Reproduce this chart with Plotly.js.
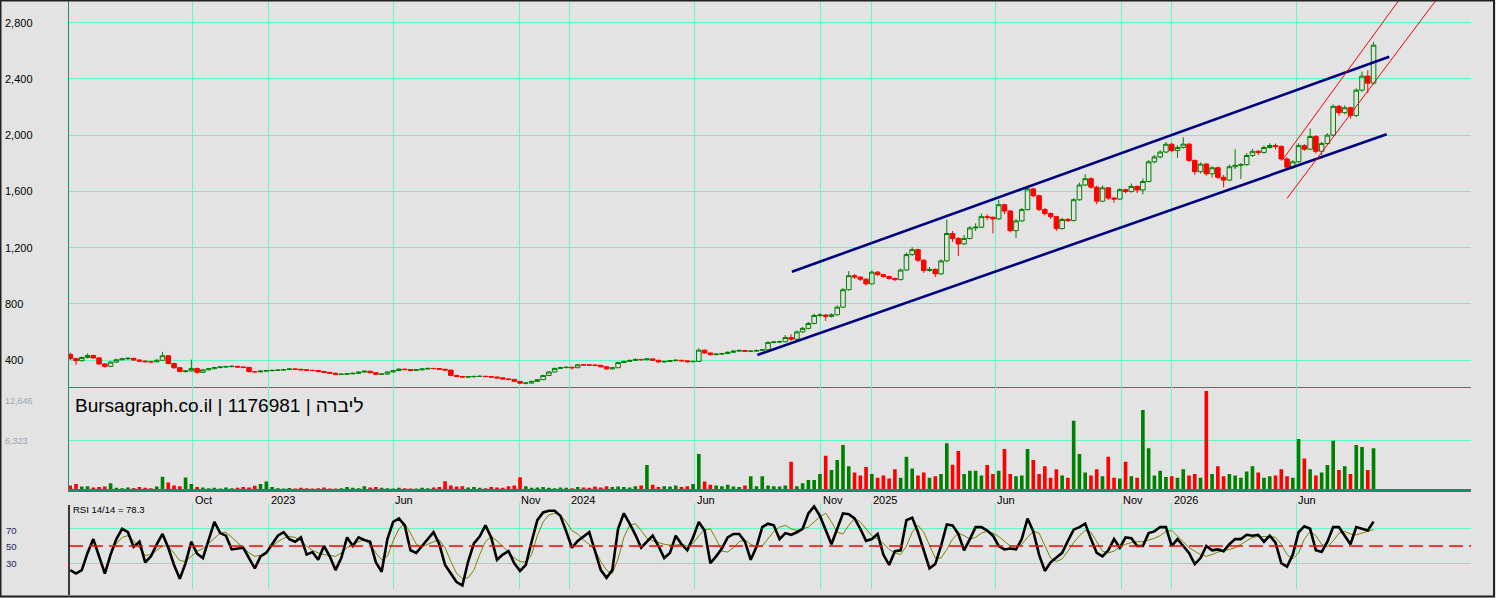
<!DOCTYPE html>
<html>
<head>
<meta charset="utf-8">
<script src="https://cdn.plot.ly/plotly-3.0.1.min.js"></script>
<style>
html,body{margin:0;padding:0;background:#e3e3e3;}
#chart{width:1496px;height:598px;}
</style>
</head>
<body>
<div id="chart"></div>
<script>
// ---------- DATA (weekly samples) ----------
const startDate = '2022-05-05';

const openP = [
440,410,395,418,432,415,372,355,385,402,
408,412,400,392,388,387,398,430,375,345,
318,322,340,312,330,338,346,350,353,355,
350,347,318,316,321,324,326,328,332,336,
334,330,327,325,318,312,306,297,299,302,
305,314,320,310,298,300,315,325,335,332,
326,330,336,340,339,334,328,290,282,279,
281,283,284,282,279,273,265,262,248,235,
236,248,260,290,315,340,346,348,345,366,
365,363,362,352,337,345,382,390,397,404,
402,408,398,386,390,395,398,394,388,390,
470,450,438,442,446,455,463,468,462,463,
468,472,525,528,530,560,548,600,625,660,
717,720,710,722,776,900,1000,990,975,942,
1025,1008,994,980,972,1040,1150,1185,1110,1037,
1045,1013,1105,1300,1265,1226,1265,1340,1345,1420,
1415,1404,1505,1460,1320,1390,1470,1617,1569,1470,
1442,1420,1335,1400,1392,1540,1645,1690,1630,1530,
1625,1552,1545,1612,1598,1635,1610,1670,1810,1845,
1880,1935,1890,1912,1936,1820,1740,1794,1725,1768,
1700,1680,1775,1785,1790,1855,1885,1877,1912,1926,
1920,1830,1772,1810,1925,1900,1990,1885,1940,2000,
2205,2160,2195,2140,2320,2420,2370];

const highP = [
452,416,424,446,438,420,376,392,410,416,
420,415,405,398,394,405,458,436,380,350,
328,402,345,336,343,351,357,359,361,358,
354,350,322,326,329,331,333,337,341,339,
337,333,330,328,321,315,309,304,307,310,
319,325,323,313,305,320,330,340,339,335,
335,341,345,344,342,337,331,294,286,286,
288,289,288,285,282,276,268,265,251,241,
253,265,295,320,345,352,353,352,371,371,
369,367,365,355,350,387,395,402,411,408,
414,410,401,395,400,404,401,397,395,484,
474,453,447,451,460,469,474,471,468,473,
479,533,535,537,578,582,610,635,670,728,
732,726,732,788,912,1032,1012,995,982,1036,
1032,1014,1000,987,1050,1165,1202,1192,1116,1062,
1052,1116,1400,1318,1275,1290,1352,1372,1442,1436,
1422,1540,1512,1466,1402,1482,1642,1626,1576,1482,
1452,1426,1412,1410,1552,1662,1722,1700,1640,1642,
1632,1562,1622,1618,1656,1642,1692,1822,1858,1892,
1952,1946,1928,1985,1942,1826,1806,1802,1778,1776,
1716,1790,1900,1802,1872,1902,1896,1926,1942,1940,
1926,1842,1822,1942,1936,2048,2000,1952,2012,2218,
2216,2212,2202,2332,2452,2462,2662];

const lowP = [
400,366,390,412,408,366,345,350,380,398,
403,395,386,382,380,384,395,370,338,313,
310,318,302,308,326,334,342,346,348,345,
341,311,307,312,317,320,322,324,329,329,
325,322,320,313,307,301,292,293,295,298,
301,310,305,293,294,296,311,321,327,321,
322,326,332,334,329,322,285,277,274,275,
277,279,277,274,268,260,256,243,229,227,
232,245,257,287,312,336,340,332,342,360,
358,355,347,329,332,342,378,386,393,396,
398,393,381,382,386,391,389,383,384,388,
445,432,434,438,442,451,459,456,457,459,
464,468,519,521,526,536,544,594,619,654,
704,678,702,716,770,893,978,962,930,936,
998,985,972,960,966,1034,1140,1098,1020,1028,
990,1005,1098,1240,1140,1218,1258,1318,1338,1394,
1300,1398,1438,1308,1268,1384,1464,1558,1460,1428,
1404,1318,1328,1382,1386,1534,1638,1618,1508,1524,
1538,1518,1538,1586,1592,1588,1578,1664,1798,1834,
1872,1878,1838,1904,1808,1718,1728,1712,1698,1688,
1628,1672,1758,1688,1782,1844,1858,1868,1904,1898,
1818,1752,1758,1804,1888,1894,1868,1858,1928,1994,
2138,2148,2118,2128,2308,2300,2360];

const closeP = [
410,395,418,432,415,372,355,385,402,408,
412,400,392,388,387,398,430,375,345,318,
322,340,312,330,338,346,350,353,355,350,
347,318,316,321,324,326,328,332,336,334,
330,327,325,318,312,306,297,299,302,305,
314,320,310,298,300,315,325,335,332,326,
330,336,340,339,334,328,290,282,279,281,
283,284,282,279,273,265,262,248,235,236,
248,260,290,315,340,346,348,345,366,365,
363,362,352,337,345,382,390,397,404,402,
408,398,386,390,395,398,394,388,390,470,
450,438,442,446,455,463,468,462,463,468,
472,525,528,530,560,548,600,625,660,717,
720,710,722,776,900,1000,990,975,942,1025,
1008,994,980,972,1040,1150,1185,1110,1037,1045,
1013,1105,1300,1265,1226,1265,1340,1345,1420,1415,
1404,1505,1460,1320,1390,1470,1617,1569,1470,1442,
1420,1335,1400,1392,1540,1645,1690,1630,1530,1625,
1552,1545,1612,1598,1635,1610,1670,1810,1845,1880,
1935,1890,1912,1936,1820,1740,1794,1725,1768,1700,
1680,1775,1785,1790,1855,1885,1877,1912,1926,1920,
1830,1772,1810,1925,1900,1990,1885,1940,2000,2205,
2160,2195,2140,2320,2420,2370,2640];

const volume = [
500,700,350,400,250,300,350,780,200,150,
250,180,300,200,150,350,1640,900,500,400,
1530,700,300,250,150,200,120,250,150,200,
300,250,450,700,1000,300,150,100,180,120,
200,150,100,130,250,120,100,150,300,200,
150,400,250,300,200,150,100,200,150,120,
100,200,150,250,300,1040,500,350,400,250,
300,200,150,300,250,200,400,500,1560,400,
200,250,300,200,150,250,200,150,300,250,
200,350,250,400,300,350,300,250,400,500,
3160,600,300,400,350,500,300,400,700,4590,
1000,600,500,400,600,350,300,500,1690,400,
1690,500,400,350,500,3600,400,800,1200,1200,
2000,4380,2500,3820,5770,3000,2200,1800,2900,2000,
1500,1800,1400,2600,1500,4250,2700,1800,2200,1500,
1700,2000,5980,3200,4990,2000,2400,2400,1800,3160,
2000,2400,5250,2000,1700,1800,5250,3820,2000,3000,
1500,2600,1800,1500,8930,4590,2200,1800,2600,1700,
4250,1500,1400,3600,1700,1500,10320,5340,1800,2400,
1600,1700,1500,2600,1800,2000,1500,12790,2000,3000,
1700,2000,1800,1500,2300,3000,2200,1500,1700,1800,
2600,1700,1500,6540,4000,2600,1800,2200,3160,6330,
2500,3000,2000,5780,5490,2500,5340];

const rsi = [
22,18,22,42,58,38,18,40,58,70,
66,49,55,31,38,52,64,48,28,12,
30,55,41,36,58,78,65,62,46,47,
48,36,24,38,42,52,62,66,58,55,
60,40,43,34,50,38,22,36,60,50,
60,57,55,31,20,58,78,82,74,45,
42,50,58,66,52,28,18,8,4,32,
53,61,74,60,34,40,44,30,21,28,
55,80,89,91,91,85,67,48,56,61,
66,44,22,13,22,70,88,76,63,48,
55,62,50,36,42,62,52,45,60,78,
68,30,38,47,60,64,64,55,34,49,
72,76,74,58,65,63,66,70,88,96,
85,68,52,70,88,87,82,70,56,58,
64,40,28,44,45,80,83,66,44,24,
29,50,75,74,64,45,58,72,72,68,
62,50,46,47,46,58,82,67,40,21,
31,37,42,56,69,72,76,58,42,38,
45,58,48,60,59,50,50,65,67,72,
72,50,58,50,42,29,36,50,45,46,
44,52,58,58,63,62,63,55,62,54,
30,26,40,66,73,70,45,43,55,72,
72,62,52,72,70,68,78.3];

const rsiAvg = [
null,null,null,null,null,null,null,45,53,60,
62,56,48,39,40,45,50,50,42,33,
32,38,44,47,53,60,65,66,60,53,
47,42,38,39,44,50,55,59,61,60,
56,50,45,42,40,39,38,42,48,52,
55,57,52,42,34,38,56,70,76,65,
52,49,52,55,57,48,32,18,12,13,
22,40,55,61,56,50,43,36,32,31,
40,62,78,86,88,86,78,68,64,57,
52,45,32,22,18,35,60,74,76,68,
59,56,54,52,51,51,52,50,53,62,
69,70,58,44,43,48,55,57,52,49,
50,58,67,72,74,70,68,70,72,78,
84,88,78,66,64,74,82,78,70,62,
58,53,46,42,40,50,66,74,66,50,
36,36,46,58,65,62,58,60,65,67,
65,61,55,50,47,52,60,67,65,50,
36,32,35,44,54,62,68,66,55,44,
42,44,49,52,54,55,55,57,59,62,
67,68,62,55,48,44,40,38,40,43,
45,46,48,52,56,60,61,61,61,60,
52,40,35,42,58,67,62,52,49,56,
65,67,64,63,65,67,69];

const tickDates = ['2022-10-01','2023-01-01','2023-06-01','2023-11-01','2024-01-01','2024-06-01',
                   '2024-11-01','2025-01-01','2025-06-01','2025-11-01','2026-01-01','2026-06-01'];
const tickText  = ['Oct','2023','Jun','Nov','2024','Jun','Nov','2025','Jun','Nov','2026','Jun'];
const priceTicks = [400,800,1200,1600,2000,2400,2800];
const volTicks = [6323,12646];
const rsiTicks = [30,50,70];

// drawn trend lines: [startDate, startPrice, endDate, endPrice]
const channelLines = [
  ['2024-09-27',1028,'2026-09-22',2558],
  ['2024-08-16',436,'2026-09-19',2006]
];
const redLines = [
  ['2026-05-16',1828,'2026-10-04',2961],
  ['2026-05-21',1550,'2026-11-18',2961]
];

const chartTitle = 'Bursagraph.co.il | 1176981 | ליברה';
const rsiLabel = 'RSI 14/14 = 78.3';

// ---------- BUILD ----------
const DAY = 86400000;
const t0 = Date.parse(startDate + 'T00:00:00Z');
const dates = closeP.map((_, i) => new Date(t0 + i * 7 * DAY).toISOString().slice(0, 10));
const volColors = closeP.map((c, i) => c >= openP[i] ? '#008000' : '#ff0000');
const fmt = v => String(v).replace(/\B(?=(\d{3})+(?!\d))/g, ',');

// pixel helpers for the frame (plot area: x 69..1471, y 0..595)
const PL = 69, PW = 1402, PH = 595;
const px = x => (x - PL) / PW;
const py = y => (PH - y) / PH;

const GRID = '#62f7c4';
const FONT = 'Liberation Sans, Arial, sans-serif';

const traces = [
  {
    type: 'candlestick', x: dates, open: openP, high: highP, low: lowP, close: closeP,
    xaxis: 'x', yaxis: 'y', whiskerwidth: 0, hoverinfo: 'skip',
    increasing: {line: {color: '#008000', width: 1}, fillcolor: 'rgba(0,0,0,0)'},
    decreasing: {line: {color: '#ff0000', width: 1}, fillcolor: '#ff0000'}
  },
  {
    type: 'bar', x: dates, y: volume, xaxis: 'x2', yaxis: 'y2',
    marker: {color: volColors, line: {width: 0}}, width: 4.4 * DAY, hoverinfo: 'skip'
  },
  {
    type: 'scatter', mode: 'lines', x: dates, y: rsiAvg, xaxis: 'x3', yaxis: 'y3',
    line: {color: '#808000', width: 1}, hoverinfo: 'skip'
  },
  {
    type: 'scatter', mode: 'lines', x: dates, y: rsi, xaxis: 'x3', yaxis: 'y3',
    line: {color: '#000000', width: 2.6}, hoverinfo: 'skip'
  }
];

const xRange = ['2022-05-03 12:00', '2026-12-30 07:00'];
const xBase = {
  type: 'date', range: xRange, tickvals: tickDates, showticklabels: false, ticks: '',
  showgrid: true, gridcolor: GRID, gridwidth: 1, zeroline: false, fixedrange: true
};

const annotations = [];
tickDates.forEach((d, i) => annotations.push({
  xref: 'x', yref: 'paper', x: d, y: py(500), xanchor: 'left', yanchor: 'middle', xshift: 0,
  text: tickText[i], showarrow: false, font: {family: FONT, size: 11, color: '#000'}
}));
priceTicks.forEach(v => annotations.push({
  xref: 'paper', yref: 'y', x: px(3), y: v, xanchor: 'left', yanchor: 'middle',
  text: fmt(v), showarrow: false, font: {family: FONT, size: 11, color: '#000'}
}));
volTicks.forEach((v, i) => annotations.push({
  xref: 'paper', yref: 'y2', x: px(3), y: v, xanchor: 'left', yanchor: 'middle',
  yshift: i === 1 ? -9 : 0,
  text: fmt(v), showarrow: false, font: {family: FONT, size: 9, color: '#9aa6b6'}
}));
rsiTicks.forEach(v => annotations.push({
  xref: 'paper', yref: 'y3', x: px(4), y: v, xanchor: 'left', yanchor: 'middle',
  yshift: v === 70 ? -2 : 0,
  text: String(v), showarrow: false, font: {family: FONT, size: 9.5, color: '#1c1c6a'}
}));
annotations.push({
  xref: 'paper', yref: 'paper', x: px(73), y: py(405), xanchor: 'left', yanchor: 'middle',
  text: chartTitle, showarrow: false, font: {family: FONT, size: 19, color: '#000'}
});
annotations.push({
  xref: 'paper', yref: 'paper', x: px(71), y: py(509), xanchor: 'left', yanchor: 'middle',
  text: rsiLabel, showarrow: false, font: {family: FONT, size: 9.5, color: '#000'}
});

const shapes = [];
channelLines.forEach(l => shapes.push({
  type: 'line', xref: 'x', yref: 'y', x0: l[0], y0: l[1], x1: l[2], y1: l[3],
  line: {color: '#000080', width: 2.6}
}));
redLines.forEach(l => shapes.push({
  type: 'line', xref: 'x', yref: 'y', x0: l[0], y0: l[1], x1: l[2], y1: l[3],
  line: {color: '#ff0000', width: 1}
}));
shapes.push({
  type: 'line', xref: 'paper', yref: 'y3', x0: 0, x1: 1, y0: 50, y1: 50,
  line: {color: '#ff0000', width: 1.5, dash: '14px,6px'}
});
shapes.push({
  type: 'line', xref: 'paper', yref: 'paper', x0: 0, x1: 0, y0: py(595), y1: py(505),
  line: {color: '#000', width: 1.5}
});
shapes.push({
  type: 'rect', xref: 'paper', yref: 'paper', x0: px(0.5), x1: px(1494), y0: py(596.5), y1: py(0.5),
  line: {color: '#222', width: 2}, fillcolor: 'rgba(0,0,0,0)'
});

const layout = {
  width: 1496, height: 598,
  margin: {l: 69, r: 25, t: 0, b: 3, pad: 0},
  paper_bgcolor: '#e3e3e3', plot_bgcolor: '#e3e3e3',
  showlegend: false, boxgap: 0.12, boxgroupgap: 0.1, hovermode: false,
  xaxis: Object.assign({}, xBase, {anchor: 'y', rangeslider: {visible: false},
    showline: true, linecolor: '#2a8a6a', linewidth: 1}),
  xaxis2: Object.assign({}, xBase, {anchor: 'y2', showline: true, linecolor: '#10906a', linewidth: 2.5}),
  xaxis3: Object.assign({}, xBase, {anchor: 'y3', showline: false}),
  yaxis: {domain: [py(387), 1], range: [207.9, 2961.5], tickvals: priceTicks, showticklabels: false,
    ticks: '', showgrid: true, gridcolor: GRID, zeroline: false, showline: true,
    linecolor: '#2a8a6a', linewidth: 1, fixedrange: true},
  yaxis2: {domain: [py(489.3), py(387)], range: [0, 13310], tickvals: [volTicks[0]], showticklabels: false,
    ticks: '', showgrid: true, gridcolor: GRID, zeroline: false, showline: true,
    linecolor: '#2a8a6a', linewidth: 1, fixedrange: true},
  yaxis3: {domain: [py(589), py(503)], range: [0, 100], tickvals: [30, 70], showticklabels: false,
    ticks: '', showgrid: true, gridcolor: GRID, zeroline: false, showline: false, fixedrange: true},
  annotations: annotations,
  shapes: shapes
};

Plotly.newPlot('chart', traces, layout, {displayModeBar: false, staticPlot: true});
</script>
</body>
</html>
